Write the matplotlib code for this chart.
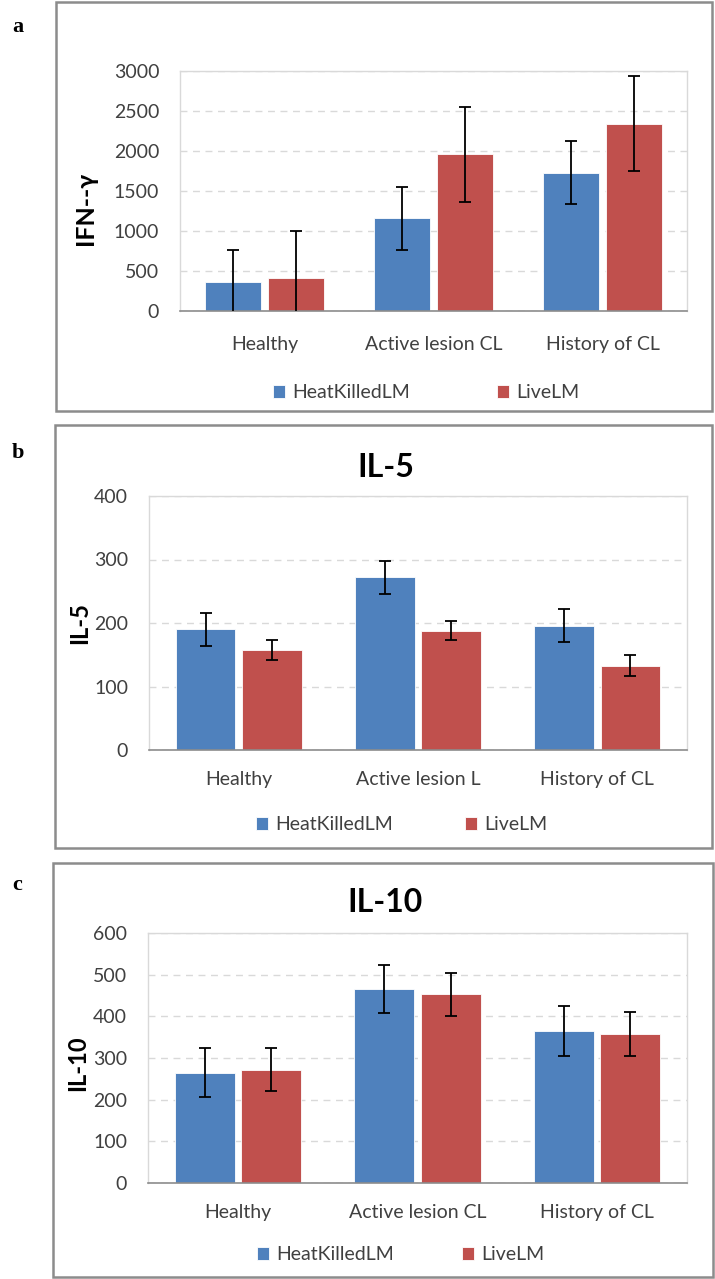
import matplotlib
matplotlib.use("Agg")
import matplotlib.pyplot as plt
from matplotlib.patches import Rectangle
import numpy as np

plt.rcParams['font.family'] = ['Lato', 'DejaVu Sans']

# ---------------- data ----------------
groups_a = ["Healthy", "Active lesion CL", "History of CL"]
groups_b = ["Healthy", "Active lesion L", "History of CL"]
groups_c = ["Healthy", "Active lesion CL", "History of CL"]
series_names = ["HeatKilledLM", "LiveLM"]

ifn_heat = [366, 1157, 1731]
ifn_heat_err = [400, 395, 395]
ifn_live = [408, 1960, 2343]
ifn_live_err = [590, 595, 595]

il5_heat = [190, 272, 196]
il5_heat_err = [26, 26, 26]
il5_live = [157, 188, 133]
il5_live_err = [16, 15, 16]

il10_heat = [265, 465, 365]
il10_heat_err = [58, 58, 59]
il10_live = [272, 453, 358]
il10_live_err = [52, 51, 52]

ifn_ticks = [0, 500, 1000, 1500, 2000, 2500, 3000]
il5_ticks = [0, 100, 200, 300, 400]
il10_ticks = [0, 100, 200, 300, 400, 500, 600]

# ---------------- style ----------------
BLUE = "#4F81BD"
RED = "#C0504D"
TXT = "#404040"
W, H = 715, 1279
LEG_FS = 14

fig = plt.figure(figsize=(W / 100, H / 100), dpi=100)
renderer = fig.canvas.get_renderer()

_t = fig.text(0, 0, series_names[0], fontsize=LEG_FS)
HK_W = _t.get_window_extent(renderer).width
_t.remove()
EM = LEG_FS * 100 / 72.0


def ax_px(l, t, r, b):
    return fig.add_axes([l / W, 1 - b / H, (r - l) / W, (b - t) / H])


def frame_px(l, t, r, b):
    fig.patches.append(Rectangle((l / W, 1 - b / H), (r - l) / W, (b - t) / H,
                                 transform=fig.transFigure, fill=False,
                                 edgecolor="#8c8c8c", linewidth=1.8))


def draw_panel(ax, box, cats, heat, heat_err, live, live_err, ticks, ylabel,
               ylab_px, xpad, ylab_fs, legend_px, legend_gap,
               title=None, title_px=None):
    l, t, r, b = box
    x = np.arange(len(cats))
    bw = 0.333
    off = bw / 2 + 0.018
    b1 = ax.bar(x - off, heat, bw, color=BLUE, label=series_names[0], zorder=2,
                edgecolor="white", linewidth=0.6)
    b2 = ax.bar(x + off, live, bw, color=RED, label=series_names[1], zorder=2,
                edgecolor="white", linewidth=0.6)
    ax.errorbar(x - off, heat, yerr=heat_err, fmt="none", ecolor="black",
                elinewidth=1.3, capsize=4.5, capthick=1.3, zorder=3)
    ax.errorbar(x + off, live, yerr=live_err, fmt="none", ecolor="black",
                elinewidth=1.3, capsize=4.5, capthick=1.3, zorder=3)
    ax.set_xlim(-0.5, len(cats) - 0.5)
    ax.set_ylim(ticks[0], ticks[-1])
    ax.set_yticks(ticks)
    ax.set_xticks(x)
    ax.set_xticklabels(cats)
    ax.tick_params(axis="both", length=0, labelsize=14, colors=TXT)
    ax.tick_params(axis="y", pad=15)
    ax.tick_params(axis="x", pad=xpad)
    ax.yaxis.grid(True, linestyle=(0, (5, 4)), color="#d9d9d9", linewidth=1.0, zorder=0)
    ax.set_axisbelow(True)
    for s in ["top", "right", "left"]:
        ax.spines[s].set_color("#d9d9d9")
        ax.spines[s].set_linewidth(1.0)
    ax.spines["bottom"].set_color("#8c8c8c")
    ax.spines["bottom"].set_linewidth(1.2)
    ax.set_ylabel(ylabel, fontsize=ylab_fs, fontweight="bold", color="black",
                  va="center")
    ax.yaxis.set_label_coords((ylab_px[0] - l) / (r - l),
                              (b - ylab_px[1]) / (b - t))
    if title:
        ax.set_title(title, fontsize=23, fontweight="bold", va="baseline",
                     x=(title_px[0] - l) / (r - l),
                     y=(b - title_px[1]) / (b - t))
    lx, ly = legend_px
    hl, htp = 0.6, 0.4
    cs = (legend_gap - hl * EM - htp * EM - HK_W) / EM
    ax.legend(handles=[b1, b2], loc="center left", ncol=2, frameon=False,
              bbox_to_anchor=(lx / W, 1 - ly / H), bbox_transform=fig.transFigure,
              fontsize=LEG_FS, handlelength=hl, handleheight=0.6,
              handletextpad=htp, columnspacing=cs, borderpad=0,
              borderaxespad=0, labelcolor=TXT)


# panel frames
frame_px(56, 2, 712, 411)
frame_px(55, 425, 712, 848)
frame_px(53, 863, 713, 1277)

# panel a
box_a = (180, 71, 687, 311)
axa = ax_px(*box_a)
draw_panel(axa, box_a, groups_a, ifn_heat, ifn_heat_err, ifn_live, ifn_live_err,
           ifn_ticks, "IFN--γ", (85, 208), 18, 18,
           legend_px=(273, 393), legend_gap=224)

# panel b
box_b = (149, 496, 687, 750)
axb = ax_px(*box_b)
draw_panel(axb, box_b, groups_b, il5_heat, il5_heat_err, il5_live, il5_live_err,
           il5_ticks, "IL-5", (80, 623), 15, 17,
           legend_px=(256, 825), legend_gap=209,
           title="IL-5", title_px=(386, 485))

# panel c
box_c = (148, 933, 687, 1183)
axc = ax_px(*box_c)
draw_panel(axc, box_c, groups_c, il10_heat, il10_heat_err, il10_live, il10_live_err,
           il10_ticks, "IL-10", (78, 1063), 15, 17,
           legend_px=(257, 1255), legend_gap=205,
           title="IL-10", title_px=(385, 920))

# panel letters
for letter, y in [("a", 27), ("b", 453), ("c", 885)]:
    fig.text(12 / W, 1 - y / H, letter, family="Liberation Serif",
             fontweight="bold", fontsize=16, va="center", ha="left")

fig.savefig("out.png", dpi=100)
